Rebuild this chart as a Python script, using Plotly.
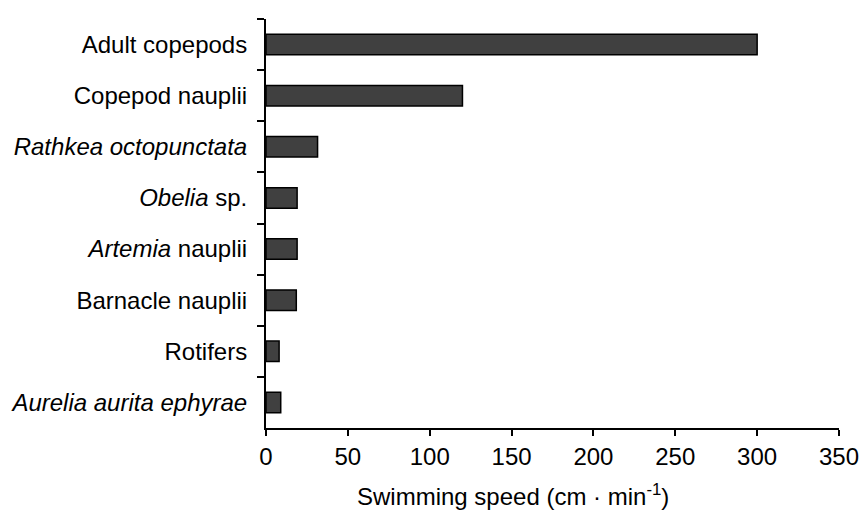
import plotly.graph_objects as go

# Organisms, listed top to bottom
organisms = [
    "Adult copepods",
    "Copepod nauplii",
    "<i>Rathkea octopunctata</i>",
    "<i>Obelia</i> sp.",
    "<i>Artemia</i> nauplii",
    "Barnacle nauplii",
    "Rotifers",
    "<i>Aurelia aurita ephyrae</i>",
]
# Swimming speed (cm/min)
speeds = [300, 120, 31.5, 19, 19, 18.5, 8, 9]

x_ticks = [0, 50, 100, 150, 200, 250, 300, 350]
x_title = "Swimming speed (cm · min<sup>-1</sup>)"

fig = go.Figure(
    go.Bar(
        x=speeds,
        y=organisms,
        orientation="h",
        width=0.4,
        marker=dict(color="#404040", line=dict(color="#000000", width=1.5)),
    )
)

font = dict(family="Liberation Sans, Arial, sans-serif", size=24, color="#000000")

fig.update_layout(
    width=859,
    height=512,
    margin=dict(l=266, r=20, t=19, b=84),
    paper_bgcolor="white",
    plot_bgcolor="white",
    font=font,
    showlegend=False,
    bargap=0.6,
)

fig.update_xaxes(
    range=[0, 350],
    tickvals=x_ticks,
    ticks="outside",
    ticklen=6,
    tickwidth=2,
    tickcolor="black",
    showline=True,
    linecolor="black",
    linewidth=2,
    showgrid=False,
    zeroline=False,
    automargin=False,
    ticklabeloverflow="allow",
    tickfont=font,
)

# x-axis title, set slightly left of the plot centre
fig.add_annotation(
    text=x_title,
    xref="paper",
    yref="paper",
    x=0.431,
    y=-0.163,
    xanchor="center",
    yanchor="middle",
    showarrow=False,
    font=font,
)

fig.update_yaxes(
    categoryorder="array",
    categoryarray=organisms,
    autorange="reversed",
    ticks="outside",
    tickson="boundaries",
    ticklen=7,
    tickwidth=2,
    tickcolor="black",
    showline=True,
    linecolor="black",
    linewidth=2,
    showgrid=False,
    automargin=False,
    ticklabelstandoff=12,
    tickfont=font,
)

fig.write_html("out.html")
